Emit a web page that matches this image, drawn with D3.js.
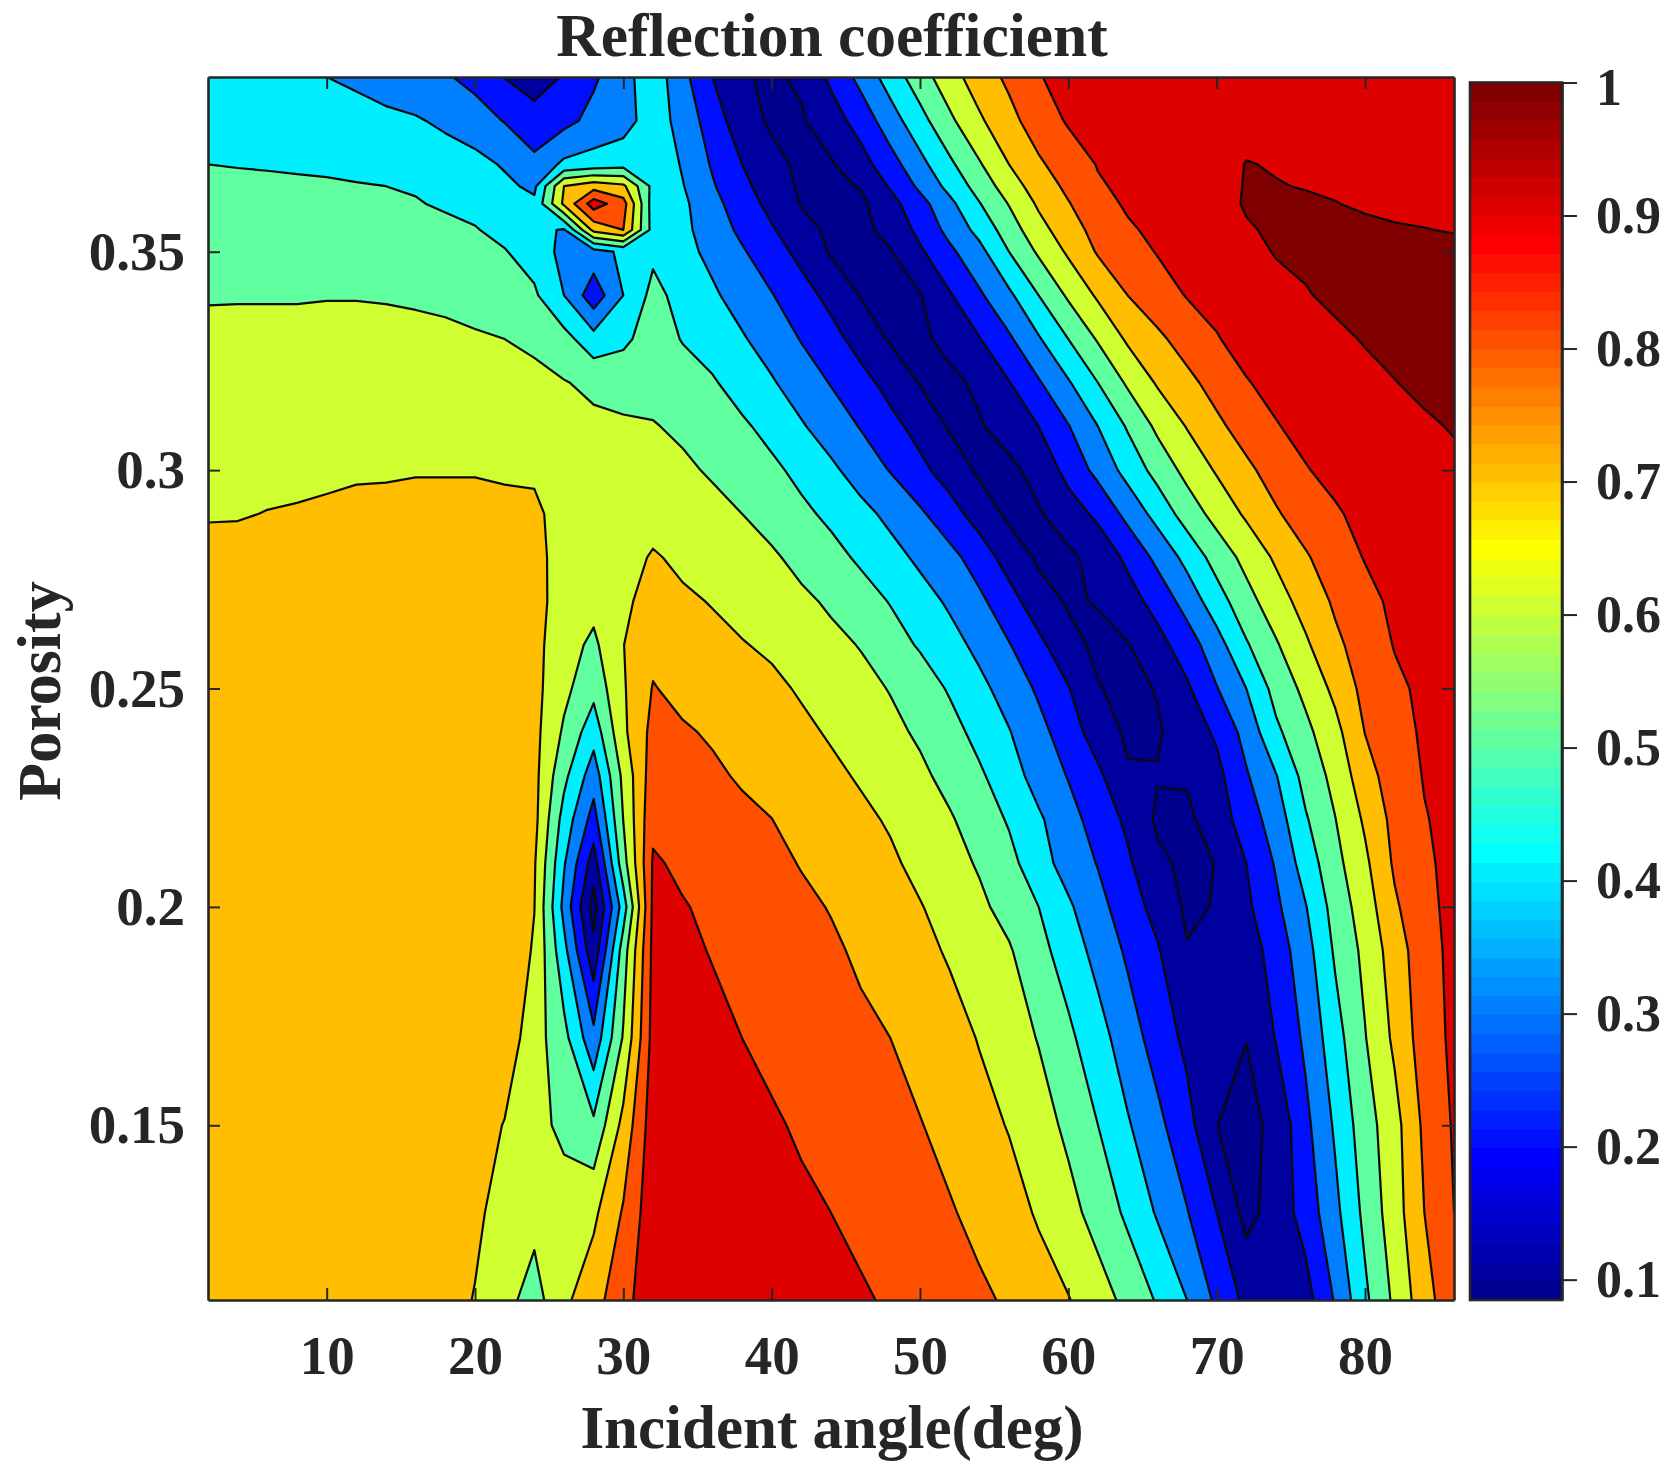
<!DOCTYPE html>
<html><head><meta charset="utf-8">
<script src="https://cdn.jsdelivr.net/npm/d3@7"></script>
<style>
html,body{margin:0;padding:0;background:#fff}
text{font-family:"Liberation Serif","Times New Roman",serif;font-weight:700;fill:#262626}
</style></head><body><svg id="c" width="1674" height="1482"></svg>
<script>
// incident angle columns (deg)
const angles=[2,4,6,8,10,12,14,16,18,20,22,24,26,28,30,32,34,36,38,40,42,44,46,48,50,52,54,56,58,60,62,64,66,68,70,72,74,76,78,80,82,84,86];
// porosity rows, top to bottom
const porosityRows=[.39,.38,.37,.365,.361,.355,.35,.34,.33,.32,.31,.30,.29,.28,.27,.26,.25,.24,.23,.22,.21,.20,.19,.17,.15,.13,.11];
// reflection coefficient read per row
const r39=[.45,.44,.43,.42,.40,.38,.36,.33,.31,.27,.197,.17,.205,.285,.365,.46,.33,.20,.11,.085,.115,.22,.33,.445,.555,.66,.75,.82,.895,.93,.94,.945,.95,.95,.955,.96,.96,.96,.965,.97,.97,.975,.975];
const r38=[.47,.47,.46,.46,.45,.44,.42,.41,.38,.345,.295,.225,.27,.33,.36,.45,.365,.25,.143,.085,.09,.154,.24,.355,.465,.58,.685,.77,.85,.91,.93,.94,.945,.95,.96,.97,.975,.98,.98,.985,.985,.99,.99];
const r37=[.50,.497,.495,.492,.49,.487,.48,.47,.45,.43,.39,.33,.42,.44,.46,.48,.39,.29,.20,.13,.08,.09,.16,.26,.37,.48,.59,.70,.785,.85,.905,.925,.935,.945,.965,1.003,.995,.99,.99,.99,.99,.99,.99];
const r365=[.517,.515,.512,.51,.507,.503,.50,.493,.47,.455,.42,.38,.70,.76,.72,.47,.405,.31,.225,.15,.085,.08,.105,.21,.32,.43,.54,.65,.75,.82,.89,.92,.94,.95,.975,1.004,1.003,.997,.995,.99,.99,.99,.99];
const r361=[.53,.53,.53,.53,.525,.52,.515,.505,.49,.475,.445,.42,.72,.95,.84,.45,.42,.33,.25,.17,.095,.075,.08,.165,.265,.375,.495,.605,.715,.795,.86,.915,.94,.955,.98,1.005,1.01,1.01,1.001,.995,.99,.99,.99];
const r355=[.546,.546,.547,.547,.545,.54,.54,.53,.52,.505,.475,.43,.39,.73,.80,.46,.425,.35,.28,.21,.135,.08,.075,.13,.225,.33,.43,.55,.665,.755,.835,.885,.925,.94,.96,.995,1.008,1.012,1.012,1.008,1.004,1.001,.998];
const r35=[.563,.563,.563,.563,.563,.56,.56,.55,.54,.525,.505,.46,.37,.36,.42,.48,.43,.375,.31,.245,.17,.09,.07,.095,.185,.28,.37,.50,.615,.715,.81,.86,.905,.925,.945,.975,1.005,1.015,1.02,1.02,1.02,1.015,1.01];
const r34=[.595,.595,.595,.595,.597,.597,.595,.59,.585,.57,.55,.515,.40,.24,.40,.53,.465,.415,.36,.305,.24,.17,.095,.08,.095,.19,.285,.38,.50,.615,.715,.80,.855,.905,.925,.95,.975,.995,1.015,1.03,1.035,1.035,1.03];
const r33=[.617,.62,.62,.62,.621,.621,.62,.62,.615,.609,.60,.583,.535,.437,.48,.545,.495,.46,.41,.355,.295,.235,.16,.09,.08,.13,.195,.285,.39,.50,.61,.715,.78,.84,.895,.93,.95,.965,.985,1.005,1.02,1.03,1.03];
const r32=[.636,.64,.64,.64,.644,.645,.645,.645,.64,.636,.63,.6225,.605,.58,.56,.57,.54,.51,.46,.41,.35,.295,.235,.165,.095,.075,.12,.195,.29,.39,.50,.615,.71,.775,.835,.895,.925,.945,.96,.98,.998,1.015,1.025];
const r31=[.655,.66,.66,.665,.666,.668,.67,.672,.67,.664,.66,.653,.64,.62,.615,.605,.585,.56,.515,.47,.41,.35,.295,.23,.165,.09,.09,.145,.20,.295,.40,.51,.62,.705,.78,.84,.895,.925,.945,.96,.975,.99,1.005];
const r30=[.675,.68,.68,.685,.688,.69,.692,.695,.695,.695,.69,.685,.655,.65,.64,.63,.615,.59,.555,.52,.475,.42,.355,.295,.225,.155,.085,.075,.135,.23,.33,.435,.535,.63,.71,.78,.84,.895,.925,.94,.955,.97,.985];
const r29=[.695,.695,.702,.705,.71,.72,.72,.725,.725,.725,.72,.72,.66,.66,.65,.66,.645,.625,.60,.56,.52,.48,.43,.375,.315,.24,.155,.08,.09,.155,.22,.33,.435,.545,.635,.715,.79,.845,.89,.925,.94,.955,.97];
const r28=[.72,.725,.73,.735,.74,.745,.745,.75,.75,.75,.75,.73,.66,.65,.66,.71,.68,.66,.63,.615,.57,.53,.485,.435,.38,.33,.255,.155,.085,.08,.135,.22,.325,.43,.54,.63,.715,.79,.85,.905,.925,.94,.955];
const r27=[.735,.74,.745,.75,.75,.755,.755,.76,.76,.76,.76,.735,.655,.63,.68,.74,.715,.695,.67,.65,.62,.585,.54,.495,.44,.385,.32,.24,.14,.09,.105,.16,.235,.34,.455,.565,.655,.74,.815,.87,.92,.935,.95];
const r26=[.745,.75,.755,.76,.76,.765,.765,.77,.77,.77,.77,.73,.64,.58,.698,.775,.75,.725,.705,.685,.655,.625,.595,.54,.49,.435,.375,.305,.225,.13,.08,.095,.165,.25,.36,.49,.59,.685,.78,.845,.905,.925,.945];
const r25=[.76,.765,.77,.77,.77,.775,.775,.78,.78,.78,.775,.73,.625,.53,.69,.805,.775,.755,.74,.72,.69,.66,.63,.595,.55,.49,.425,.36,.285,.205,.105,.075,.105,.185,.295,.40,.535,.625,.725,.83,.88,.92,.935];
const r24=[.765,.77,.775,.78,.78,.785,.785,.785,.785,.785,.78,.73,.585,.44,.68,.83,.81,.79,.77,.74,.72,.69,.66,.625,.585,.535,.47,.405,.33,.25,.15,.085,.09,.145,.215,.335,.48,.575,.67,.802,.865,.913,.93];
const r23=[.77,.775,.78,.78,.785,.79,.79,.79,.79,.79,.785,.73,.525,.345,.625,.855,.835,.815,.79,.77,.75,.72,.69,.655,.62,.57,.515,.445,.36,.295,.22,.11,.105,.11,.17,.29,.395,.535,.63,.76,.85,.905,.925];
const r22=[.775,.78,.785,.79,.79,.79,.795,.795,.795,.795,.79,.73,.46,.26,.602,.88,.865,.84,.82,.801,.77,.75,.72,.69,.65,.61,.555,.49,.415,.335,.26,.18,.085,.08,.15,.245,.35,.49,.598,.715,.83,.895,.925];
const r21=[.775,.78,.785,.79,.79,.79,.79,.795,.795,.79,.785,.71,.41,.15,.56,.91,.885,.865,.845,.825,.795,.77,.74,.715,.675,.635,.59,.53,.44,.36,.295,.215,.12,.08,.102,.20,.31,.445,.57,.68,.815,.885,.925];
const r20=[.775,.78,.785,.79,.79,.79,.79,.79,.79,.79,.78,.702,.37,.06,.45,.92,.905,.885,.865,.845,.82,.795,.765,.735,.705,.665,.62,.565,.50,.415,.33,.25,.165,.085,.105,.18,.28,.395,.54,.65,.785,.875,.925];
const r19=[.775,.78,.785,.79,.79,.79,.79,.79,.79,.785,.775,.69,.43,.13,.55,.925,.92,.895,.88,.86,.84,.815,.785,.76,.725,.69,.65,.61,.53,.455,.365,.285,.21,.105,.12,.145,.245,.36,.515,.625,.75,.86,.925];
const r17=[.775,.775,.78,.785,.79,.79,.79,.79,.785,.78,.76,.645,.53,.33,.61,.935,.945,.925,.90,.88,.86,.835,.82,.80,.76,.735,.695,.645,.595,.52,.44,.345,.26,.175,.12,.102,.205,.32,.46,.595,.72,.85,.92];
const r15=[.77,.775,.78,.785,.785,.785,.785,.785,.785,.75,.695,.635,.575,.52,.73,.955,.95,.94,.92,.91,.89,.875,.855,.83,.805,.765,.73,.695,.64,.58,.50,.41,.325,.235,.101,.07,.125,.275,.415,.555,.665,.82,.91];
const r13=[.765,.77,.775,.78,.78,.78,.78,.78,.75,.72,.66,.63,.65,.68,.81,.965,.96,.955,.945,.925,.915,.90,.88,.855,.83,.81,.77,.735,.69,.63,.565,.48,.39,.305,.20,.07,.14,.24,.375,.525,.655,.80,.90];
const r11=[.76,.765,.77,.775,.775,.775,.775,.77,.74,.695,.63,.56,.68,.76,.87,.96,.965,.97,.96,.95,.935,.92,.91,.89,.87,.845,.82,.785,.74,.705,.64,.575,.49,.40,.28,.175,.13,.16,.31,.48,.62,.76,.87];
const reflection=[r39,r38,r37,r365,r361,r355,r35,r34,r33,r32,r31,r30,r29,r28,r27,r26,r25,r24,r23,r22,r21,r20,r19,r17,r15,r13,r11];
const levels=[.1,.2,.3,.4,.5,.6,.7,.8,.9,1];
const xTicks=[10,20,30,40,50,60,70,80];
const yTicks=[.15,.2,.25,.3,.35];
const barTicks=[.1,.2,.3,.4,.5,.6,.7,.8,.9,1];
const xLabelText="Incident angle(deg)",yLabelText="Porosity",titleText="Reflection coefficient";

const L=208,R=1454,T=77,B=1300,BL=1470,BR=1562,BT=82.5;
const x=d3.scaleLinear().domain([2,86]).range([L,R]);
const y=d3.scaleLinear().domain([.11,.39]).range([B,T]);
const barY=d3.scaleLinear().domain([.0847,1]).range([B,BT]);
const jet=d3.scaleLinear().domain([1,8,24,40,56,64]).range(["#00008f","#0000ff","#00ffff","#ffff00","#ff0000","#800000"]).interpolate(d3.interpolateRgb);
const jetIndex=v=>Math.min(64,Math.max(1,Math.floor((v-.0847)/(1-.0847)*64)+1));

const gridX=d3.scaleLinear().domain(angles.map((d,i)=>i+.5)).range(angles);
const gridY=d3.scaleLinear().domain(porosityRows.map((d,i)=>i+.5)).range(porosityRows);
const path=d3.geoPath(d3.geoTransform({point(a,b){this.stream.point(x(gridX(a)),y(gridY(b)));}}));

const svg=d3.select("#c");
svg.append("defs").append("clipPath").attr("id","plot").append("rect").attr("x",L).attr("y",T).attr("width",R-L).attr("height",B-T);
const plot=svg.append("g").attr("clip-path","url(#plot)");
plot.append("rect").attr("x",L).attr("y",T).attr("width",R-L).attr("height",B-T).attr("fill",jet(1));
const bands=d3.contours().size([angles.length,porosityRows.length]).thresholds(levels)(reflection.flat());
plot.selectAll("path.band").data(bands).join("path").attr("class","band")
 .attr("d",path).attr("fill",d=>jet(jetIndex(d.value))).attr("stroke","#0a0a0a").attr("stroke-width",2.2).attr("stroke-linejoin","round");

function style(g,fs){
 g.selectAll("path.domain").attr("stroke","#262626").attr("stroke-width",2.6).attr("fill","none");
 g.selectAll(".tick line").attr("stroke","#262626").attr("stroke-width",2);
 g.selectAll("text").attr("font-size",fs).attr("font-family",null).attr("fill","#262626");
}
svg.append("g").attr("transform",`translate(0,${B})`).call(d3.axisBottom(x).tickValues(xTicks).tickSizeInner(-12).tickSizeOuter(0).tickPadding(35).tickFormat(d=>d)).call(style,55);
svg.append("g").attr("transform",`translate(0,${T})`).call(d3.axisTop(x).tickValues(xTicks).tickSizeInner(-12).tickSizeOuter(0).tickFormat("")).call(style,55);
svg.append("g").attr("transform",`translate(${L},0)`).call(d3.axisLeft(y).tickValues(yTicks).tickSizeInner(-12).tickSizeOuter(0).tickPadding(23).tickFormat(d=>String(d))).call(style,55);
svg.append("g").attr("transform",`translate(${R},0)`).call(d3.axisRight(y).tickValues(yTicks).tickSizeInner(-12).tickSizeOuter(0).tickFormat("")).call(style,55);

// colorbar
const barG=svg.append("g");
const cells=d3.range(1,65);
const step=(B-BT)/64;
barG.selectAll("rect").data(cells).join("rect").attr("x",BL).attr("width",BR-BL)
 .attr("y",d=>B-d*step).attr("height",step+.5).attr("fill",d=>jet(d));
barG.append("rect").attr("x",BL).attr("y",BT).attr("width",BR-BL).attr("height",B-BT).attr("fill","none").attr("stroke","#262626").attr("stroke-width",2.6);
const barAxis=svg.append("g").attr("transform",`translate(${BR},0)`).call(d3.axisRight(barY).tickValues(barTicks).tickSizeInner(15).tickSizeOuter(0).tickPadding(19).tickFormat(d=>String(d))).call(style,52);
barAxis.selectAll(".tick text").filter(d=>d===1).attr("dy","0.42em");

svg.append("text").attr("x",832).attr("y",56).attr("text-anchor","middle").attr("font-size",61.5).text(titleText);
svg.append("text").attr("x",832).attr("y",1448).attr("text-anchor","middle").attr("font-size",61).text(xLabelText);
svg.append("text").attr("transform","translate(60,691) rotate(-90)").attr("text-anchor","middle").attr("font-size",62).text(yLabelText);
</script></body></html>
